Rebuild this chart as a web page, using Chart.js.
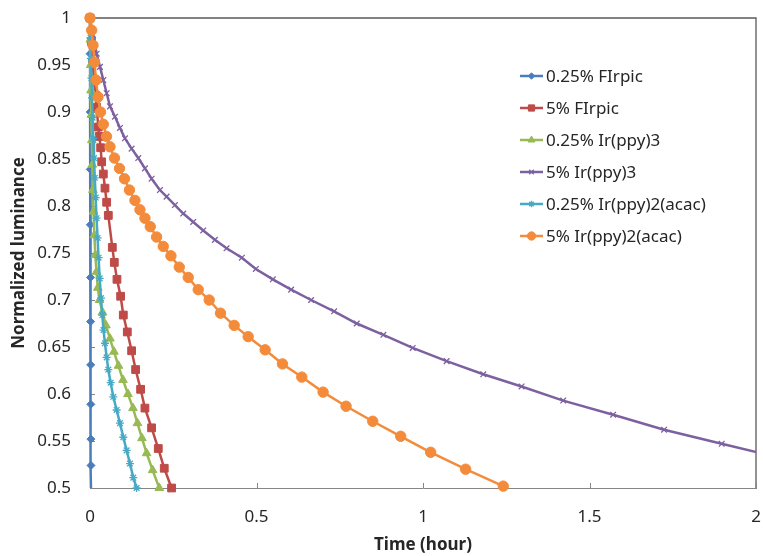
<!DOCTYPE html>
<html>
<head>
<meta charset="utf-8">
<script src="https://cdn.jsdelivr.net/npm/chart.js@4.4.1/dist/chart.umd.min.js"></script>
<style>
  html, body { margin: 0; padding: 0; background: #ffffff; }
  #wrap { width: 763px; height: 556px; }
</style>
</head>
<body>
<div id="wrap"><canvas id="c" width="763" height="556"></canvas></div>
<script>
// Luminance decay of OLED devices: time in hours, luminance normalized to 1.
const seriesNames = ['0.25% FIrpic', '5% FIrpic', '0.25% Ir(ppy)3', '5% Ir(ppy)3', '0.25% Ir(ppy)2(acac)', '5% Ir(ppy)2(acac)'];

const firpicLowT = [0, 0.0003, 0.0006, 0.0009, 0.0012, 0.0015, 0.0018, 0.0021, 0.0024, 0.0027, 0.003, 0.0034];
const firpicLowL = [1, 0.962, 0.90, 0.839, 0.780, 0.724, 0.677, 0.631, 0.589, 0.552, 0.524, 0.49];

const firpicHighT = [0, 0.004, 0.008, 0.012, 0.016, 0.020, 0.025, 0.028, 0.032, 0.035, 0.040, 0.045, 0.050, 0.055, 0.067, 0.073, 0.081, 0.092, 0.100, 0.112, 0.125, 0.137, 0.152, 0.165, 0.185, 0.205, 0.223, 0.245];
const firpicHighL = [1, 0.975, 0.953, 0.934, 0.918, 0.905, 0.884, 0.874, 0.862, 0.847, 0.834, 0.819, 0.804, 0.790, 0.756, 0.740, 0.722, 0.704, 0.684, 0.666, 0.646, 0.626, 0.605, 0.585, 0.564, 0.542, 0.521, 0.500];

const ppy3LowT = [0, 0.001, 0.002, 0.003, 0.004, 0.0055, 0.007, 0.0085, 0.0105, 0.013, 0.016, 0.0195, 0.0235, 0.0285, 0.0375, 0.048, 0.060, 0.072, 0.0855, 0.099, 0.114, 0.129, 0.1425, 0.156, 0.170, 0.188, 0.208];
const ppy3LowL = [1, 0.977, 0.950, 0.923, 0.897, 0.870, 0.844, 0.817, 0.794, 0.769, 0.748, 0.730, 0.713, 0.700, 0.687, 0.673, 0.659, 0.645, 0.630, 0.615, 0.600, 0.585, 0.569, 0.553, 0.537, 0.519, 0.500];

const ppy3HighT = [0, 0.009, 0.020, 0.030, 0.040, 0.050, 0.060, 0.075, 0.090, 0.105, 0.125, 0.145, 0.165, 0.185, 0.210, 0.230, 0.255, 0.280, 0.310, 0.340, 0.375, 0.410, 0.456, 0.498, 0.549, 0.604, 0.664, 0.733, 0.801, 0.881, 0.969, 1.071, 1.181, 1.296, 1.421, 1.571, 1.724, 1.897, 2.05];
const ppy3HighL = [1, 0.982, 0.962, 0.948, 0.934, 0.920, 0.906, 0.895, 0.883, 0.872, 0.861, 0.851, 0.840, 0.829, 0.817, 0.810, 0.801, 0.792, 0.783, 0.774, 0.764, 0.755, 0.745, 0.733, 0.722, 0.711, 0.700, 0.688, 0.675, 0.663, 0.649, 0.635, 0.621, 0.608, 0.593, 0.578, 0.562, 0.547, 0.534];

const acacLowT = [0, 0.0015, 0.003, 0.0045, 0.006, 0.0078, 0.0096, 0.012, 0.0144, 0.0171, 0.0198, 0.0228, 0.0258, 0.0291, 0.033, 0.037, 0.0405, 0.045, 0.050, 0.055, 0.062, 0.070, 0.080, 0.090, 0.100, 0.110, 0.120, 0.130, 0.140];
const acacLowL = [1, 0.979, 0.957, 0.936, 0.915, 0.894, 0.872, 0.851, 0.830, 0.809, 0.787, 0.766, 0.745, 0.723, 0.702, 0.684, 0.668, 0.654, 0.639, 0.626, 0.612, 0.597, 0.583, 0.569, 0.554, 0.540, 0.526, 0.511, 0.500];

const acacHighT = [0, 0.005, 0.009, 0.0135, 0.018, 0.024, 0.0315, 0.040, 0.0495, 0.060, 0.0735, 0.0885, 0.1035, 0.1185, 0.135, 0.150, 0.165, 0.181, 0.200, 0.220, 0.243, 0.268, 0.295, 0.325, 0.358, 0.392, 0.433, 0.475, 0.526, 0.578, 0.636, 0.700, 0.769, 0.849, 0.933, 1.023, 1.128, 1.241];
const acacHighL = [1, 0.987, 0.971, 0.953, 0.934, 0.916, 0.900, 0.887, 0.874, 0.863, 0.851, 0.840, 0.829, 0.817, 0.806, 0.796, 0.787, 0.778, 0.767, 0.757, 0.747, 0.735, 0.724, 0.711, 0.700, 0.686, 0.673, 0.661, 0.647, 0.632, 0.618, 0.602, 0.587, 0.571, 0.555, 0.538, 0.520, 0.502];

const xTickLabels = ['0', '0.5', '1', '1.5', '2'];
const yTickLabels = ['0.5', '0.55', '0.6', '0.65', '0.7', '0.75', '0.8', '0.85', '0.9', '0.95', '1'];

const seriesTimes = [firpicLowT, firpicHighT, ppy3LowT, ppy3HighT, acacLowT, acacHighT];
const seriesLums = [firpicLowL, firpicHighL, ppy3LowL, ppy3HighL, acacLowL, acacHighL];

const styles = [
  { color: '#4A7EBB', point: 'rectRot', radius: 4, bw: 1 },
  { color: '#BE4B48', point: 'rect', radius: 5.5, bw: 1 },
  { color: '#98B954', point: 'triangle', radius: 5, bw: 1 },
  { color: '#7D60A0', point: 'crossRot', radius: 4, bw: 1.3 },
  { color: '#46AAC5', point: 'star', radius: 4, bw: 1.3 },
  { color: '#F38B3A', point: 'circle', radius: 5.2, bw: 1 }
];

const FONT = '"Noto Sans", "Open Sans", sans-serif';
const TEXT = '#262626';
const AXIS = '#868686';

const datasets = seriesNames.map((name, i) => ({
  label: name,
  data: seriesTimes[i].map((t, k) => ({ x: t, y: seriesLums[i][k] })),
  borderColor: styles[i].color,
  backgroundColor: styles[i].color,
  pointBorderColor: styles[i].color,
  pointBackgroundColor: styles[i].color,
  pointStyle: styles[i].point,
  pointRadius: styles[i].radius,
  pointBorderWidth: styles[i].bw,
  borderWidth: 2.5,
  tension: 0,
  order: seriesNames.length - 1 - i,
  // the first series runs past the bottom axis and is cut there
  clip: { left: 10, top: 10, right: 0, bottom: i === 0 ? 0 : 10 }
}));

// Plot frame, inward tick marks and the in-plot legend.
const decorations = {
  id: 'decorations',
  beforeDatasetsDraw(chart) {
    const { ctx, chartArea: a, scales } = chart;
    ctx.save();
    ctx.strokeStyle = '#595959';
    ctx.lineWidth = 1.3;
    ctx.beginPath();
    ctx.moveTo(a.left, a.top);
    ctx.lineTo(a.right, a.top);
    ctx.lineTo(a.right, a.bottom);
    ctx.stroke();
    ctx.strokeStyle = AXIS;
    ctx.lineWidth = 1;
    ctx.beginPath();
    yTickLabels.forEach(l => {
      const y = Math.round(scales.y.getPixelForValue(Number(l))) + 0.5;
      ctx.moveTo(a.left, y);
      ctx.lineTo(a.left + 5, y);
    });
    xTickLabels.forEach(l => {
      const x = Math.round(scales.x.getPixelForValue(Number(l))) + 0.5;
      ctx.moveTo(x, a.bottom);
      ctx.lineTo(x, a.bottom - 5);
    });
    ctx.stroke();
    ctx.restore();
  },
  afterDatasetsDraw(chart) {
    const { ctx, chartArea: a } = chart;
    const x0 = a.left + 430;
    const top = a.top + 58;
    const step = 32;
    ctx.save();
    seriesNames.forEach((name, i) => {
      const y = top + i * step;
      const s = styles[i];
      ctx.strokeStyle = s.color;
      ctx.fillStyle = s.color;
      ctx.lineWidth = 2.5;
      ctx.beginPath();
      ctx.moveTo(x0, y);
      ctx.lineTo(x0 + 23, y);
      ctx.stroke();
      ctx.lineWidth = s.bw;
      Chart.helpers.drawPoint(ctx, { pointStyle: s.point, radius: s.radius * 0.8, rotation: 0, borderWidth: s.bw }, x0 + 11.5, y);
      ctx.fillStyle = TEXT;
      ctx.font = '17px ' + FONT;
      ctx.textAlign = 'left';
      ctx.textBaseline = 'middle';
      ctx.fillText(name, x0 + 26, y + 1);
    });
    ctx.restore();
  }
};

new Chart(document.getElementById('c'), {
  type: 'line',
  data: { datasets },
  plugins: [decorations],
  options: {
    responsive: false,
    animation: false,
    events: [],
    layout: { padding: { top: 18, right: 7, left: 0, bottom: 0 } },
    plugins: { legend: { display: false }, tooltip: { enabled: false } },
    scales: {
      x: {
        type: 'linear',
        min: 0,
        max: 2,
        afterBuildTicks(scale) { scale.ticks = xTickLabels.map(l => ({ value: Number(l) })); },
        afterFit(scale) { scale.height = 68; scale.paddingLeft = 0; scale.paddingRight = 0; },
        grid: { display: false, drawTicks: false },
        border: { display: true, color: AXIS, width: 1 },
        ticks: {
          padding: 19,
          color: TEXT,
          font: { family: FONT, size: 17 },
          maxRotation: 0,
          callback: (v, i) => xTickLabels[i]
        },
        title: {
          display: true,
          text: 'Time (hour)',
          color: TEXT,
          font: { family: FONT, size: 17, weight: 'bold' },
          padding: { top: 0, bottom: 1 }
        }
      },
      y: {
        type: 'linear',
        min: 0.5,
        max: 1,
        afterBuildTicks(scale) { scale.ticks = yTickLabels.map(l => ({ value: Number(l) })); },
        afterFit(scale) { scale.width = 90; scale.paddingTop = 0; scale.paddingBottom = 0; },
        grid: { display: false, drawTicks: false },
        border: { display: true, color: AXIS, width: 1 },
        ticks: {
          padding: 19,
          color: TEXT,
          font: { family: FONT, size: 17 },
          callback: (v, i) => yTickLabels[i]
        },
        title: {
          display: true,
          text: 'Normalized luminance',
          color: TEXT,
          font: { family: FONT, size: 17, weight: 'bold' },
          padding: { top: 9, bottom: 0 }
        }
      }
    }
  }
});
</script>
</body>
</html>
